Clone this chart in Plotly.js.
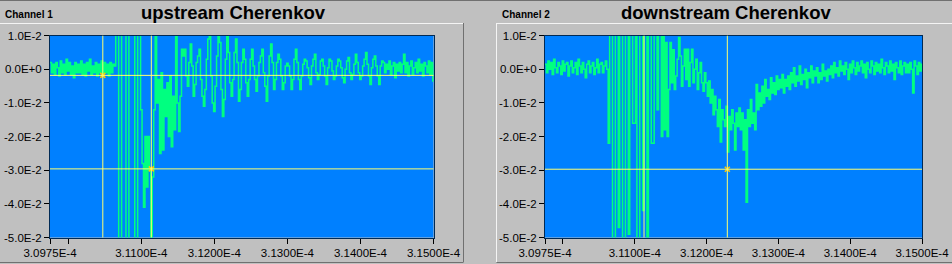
<!DOCTYPE html>
<html>
<head>
<meta charset="utf-8">
<script src="https://cdn.plot.ly/plotly-3.0.1.min.js"></script>
<style>
  html, body { margin: 0; padding: 0; background: #c0c0c0; }
  #chart { width: 952px; height: 264px; }
</style>
</head>
<body>
<div id="chart"></div>
<script>
// ---- data (time base: sample grid of the scope record) ----
const T0 = 3.0975e-4;          // first sample time (s)
const DT = 2e-8;               // sample interval (s)

// Channel 1 "upstream Cherenkov" samples, in mV
const ch1_mV = [
  2, -1, 1.5, -1.5, 2, 0.5, -2, 2.5, -1, 1.5,
  -1.5, 3, -0.5, 2, -1.5, 1, -2.5, 2, -1, 1.5,
  -1, 2.5, -1.5, 1.5, -2, 2, -0.5, 3, -1.5, 1,
  -1, 2, -2, 1.5, -1, 2.5, -1.5, 2, -1, 1.5,
  -2, 2, -1, 1.5, 1, 40, 40, -80, -80, 40,
  40, 40, -80, -80, 40, 40, 40, 40, -80, -80,
  40, 40, -12, -28, -41, -20, -35, -20, -30, -55,
  -32, -12, 12, -10, -3, -25, -1, -24, -6, -14,
  -4, -20, -2, -23, -8, -18, 12, -10, -18.5, -8,
  6, 4, 6, -2, -5, 2, 7.5, 1, -8, -4.5,
  2, 4, 6, -3, -8, -11, -6, 3, 9, 12,
  -2, -10, -12.5, -5, 4, 12, 8, -6, -14, -9,
  3, 12, 5, -4, -8, -3, 5, 9, 2, -9.5,
  -6, 2, 6, 3, -4, -8, -3, 3, 6, 1,
  -3, -6.5, -2, 2, 4, 6, -1, -5, -9.5, -2,
  4, 7.5, 2, -6, -3, 2, 4.5, 3, -2, -6,
  -4, 1, 1.8, 1, -2, -6, -3, 3, 6, 2,
  -3, -6, -2, 1.5, 3, 2.5, 0.5, -2.5, -4.5, 1,
  3, 4.5, -1, -3, -1.5, 2.5, 3, 1, -2, -4.5,
  0.5, 3, 2.5, -0.5, -3, -2, 1, 3, 2.5, 0.5,
  -2.5, -4, 0, 2.5, 3.5, -1, -3, -1.5, 1.5, 4.5,
  2, -1, -3, -2, 1, 3, 5, 1.5, -2, -4.5,
  0.5, 3, 4, 1, -2, -4.5, 1, 2.5, 2, -1,
  1.5, 0, 2.5, -1.5, 1, 2, -2.5, 1.5, -0.5, 2,
  -1, 1.5, 4.5, -1, 2, -2, 1, 2.5, -1.5, 0.5,
  2, -1, 3, -0.5, 1.5, -2, 2, 1, -1, 2.5,
  -1.5, 2, -3.5, 1.5
];

// Channel 2 "downstream Cherenkov" samples, in mV
const ch2_mV = [
  1.5, -1, 2.5, 0, 2, -1.5, 3, 0.5, -1, 2,
  1, -1.5, 2.5, -0.5, 1.5, 2, -2, 1, 2.5, -1,
  0.5, 2, -1.5, 3, 1, -1, 2, 0, -2.5, 1.5,
  2.5, -1, 1, 2, -1.5, 0.5, 3, -1, 1.5, 2,
  -1, 1, 2.5, 0, -22, 15, 15, -70, -70, 15,
  15, -47, 15, 15, -70, -70, 15, 15, -49, 15,
  15, -16, -16, 15, -70, -70, 15, 15, -42, 15,
  15, -70, 15, 15, -22, -22, 15, 15, -12, 15,
  15, -20, 12, -18, 8, -20, -6, 8, -4, 5.8,
  -6, -2, 3, 9.5, 4, -5, 1, 6, -3, 6,
  -5, 2, 6, -4, 0, 3, -6, -1, 2, -4,
  -6.5, -1, -4, -8, -3.5, -10, -6, -13.5, -8, -12,
  -17, -9, -21.6, -12, -15, -17, -11, -24.6, -14, -18,
  -12, -16, -24, -13, -17, -11.5, -18, -13, -24, -15,
  -39.5, -12, -17, -9, -16, -13, -18, -4.5, -12, -7,
  -11, -5, -10, -3, -8, -6, -9, -2.5, -7, -4,
  -7.5, -2, -6, -3, -5.5, -1.5, -7, -3, -5, -2,
  -6, -1, -4, 0.5, -5, -2, -3.5, 1, -4.5, -1.5,
  -3, 0, -5.5, -1, -2.5, 1, -4, -0.5, -2, 0.5,
  -4, -1, -3, 1.5, -2, -0.5, -3.5, 0, -1.5, 1,
  -2.5, 2, -1, 0.5, -2, 2.5, -0.5, 1, -1.5, 2,
  0, -3, 1.5, -1, 2.5, 0.5, -1.5, 2, -0.5, 1,
  2.5, -1, 1.5, -2.5, 2, 0, -1, 2.5, 1, -1.5,
  2, -0.5, 1.5, -1, 3, 0.5, -1.5, 2, 1, -1,
  2.5, -0.5, 1.5, -3, 2, 0.5, -1, 2.5, -1.5, 1,
  2, -1, 1.5, -1, 2, 0, -7, 2.5, 1, -1.5,
  2, -0.5, 1.5, 0
];

// Cursor readouts (time s, amplitude V)
const ch1CursorT = [3.10473e-4, 3.11137e-4];
const ch1CursorV = [-0.0018, -0.0296];
const ch2CursorT = [3.11129e-4, 3.12289e-4];
const ch2CursorV = [null, -0.0297];

// Axis ticks
const xTickVals = [3.0975e-4, 3.1000e-4, 3.1100e-4, 3.1200e-4, 3.1300e-4, 3.1400e-4, 3.1500e-4];
const xTickText = ['3.0975E-4', '', '3.1100E-4', '3.1200E-4', '3.1300E-4', '3.1400E-4', '3.1500E-4'];
const yTickVals = [0.01, 0, -0.01, -0.02, -0.03, -0.04, -0.05];
const yTickText = ['1.0E-2', '0.0E+0', '-1.0E-2', '-2.0E-2', '-3.0E-2', '-4.0E-2', '-5.0E-2'];

const titles = ['upstream Cherenkov', 'downstream Cherenkov'];
const channelNames = ['Channel 1', 'Channel 2'];

// ---- layout helpers ----
const W = 952, H = 264;
const px = x => x / W;
const py = y => 1 - y / H;

const toVolts = a => a.map(v => v * 1e-3);
const timeOf = a => a.map((_, i) => T0 + i * DT);

const GREEN = '#00ff80';
const CURSOR = '#ffff70';
const FONT = 'Arial, "Liberation Sans", Helvetica, sans-serif';

const traces = [
  { x: timeOf(ch1_mV), y: toVolts(ch1_mV), xaxis: 'x', yaxis: 'y', type: 'scatter', mode: 'lines',
    line: { color: GREEN, width: 1.5, shape: 'hv' }, hoverinfo: 'skip' },
  { x: timeOf(ch2_mV), y: toVolts(ch2_mV), xaxis: 'x2', yaxis: 'y2', type: 'scatter', mode: 'lines',
    line: { color: GREEN, width: 1.5, shape: 'hv' }, hoverinfo: 'skip' }
];

function markerTrace(T, V, xa, ya) {
  const xs = [], ys = [];
  T.forEach((t, i) => { if (V[i] !== null) { xs.push(t); ys.push(V[i]); } });
  return { x: xs, y: ys, xaxis: xa, yaxis: ya, type: 'scatter', mode: 'markers',
    marker: { symbol: 'x-thin-open', size: 5, color: '#ffc800', line: { color: '#ffc800', width: 1.5 } },
    hoverinfo: 'skip' };
}
traces.push(markerTrace(ch1CursorT, ch1CursorV, 'x', 'y'));
traces.push(markerTrace(ch2CursorT, ch2CursorV, 'x2', 'y2'));

const shapes = [];
function cursorShapes(T, V, xa, ya) {
  T.forEach(t => shapes.push({ type: 'line', xref: xa, yref: ya + ' domain', x0: t, x1: t, y0: 0, y1: 1,
    line: { color: CURSOR, width: 1 }, layer: 'above' }));
  V.forEach(v => { if (v !== null) shapes.push({ type: 'line', xref: xa + ' domain', yref: ya, x0: 0, x1: 1, y0: v, y1: v,
    line: { color: CURSOR, width: 1 }, layer: 'above' }); });
}
cursorShapes(ch1CursorT, ch1CursorV, 'x', 'y');
cursorShapes(ch2CursorT, ch2CursorV, 'x2', 'y2');

function pline(x0, y0, x1, y1, color) {
  shapes.push({ type: 'line', xref: 'paper', yref: 'paper', x0: px(x0), y0: py(y0), x1: px(x1), y1: py(y1),
    line: { color: color, width: 1 }, layer: 'below' });
}
// window frame lines
pline(0, 0.5, 952, 0.5, '#707070');
pline(0, 23.5, 463, 23.5, '#f4f4f4');
pline(463.5, 23, 463.5, 262, '#707070');
pline(0, 262.5, 463.5, 262.5, '#707070');
pline(496.5, 23.5, 952, 23.5, '#f4f4f4');
pline(496.5, 23, 496.5, 262, '#f4f4f4');
pline(496.5, 262.5, 952, 262.5, '#707070');

const yDom = [py(237.5), py(35.7)];
function xAxis(dom) {
  return { domain: dom, range: [3.0975e-4, 3.15e-4], tickmode: 'array', tickvals: xTickVals, ticktext: xTickText,
    ticks: 'outside', ticklen: 5, tickwidth: 1, tickcolor: '#000', showgrid: false, zeroline: false,
    showline: true, linecolor: '#002a55', linewidth: 1, mirror: true,
    tickfont: { family: FONT, size: 11.5, color: '#000' }, fixedrange: true };
}
function yAxis(anchor) {
  return { domain: yDom, range: [-0.05, 0.01], tickmode: 'array', tickvals: yTickVals, ticktext: yTickText,
    ticks: 'outside', ticklen: 5, tickwidth: 1, tickcolor: '#000', showgrid: false, zeroline: false,
    showline: true, linecolor: '#002a55', linewidth: 1, mirror: true, anchor: anchor,
    tickfont: { family: FONT, size: 11.5, color: '#000' }, fixedrange: true };
}

const annotations = [
  { text: '<b>' + titles[0] + '</b>', x: px(233.5), y: py(13), xref: 'paper', yref: 'paper', showarrow: false,
    xanchor: 'center', yanchor: 'middle', font: { family: FONT, size: 18.5, color: '#000' } },
  { text: '<b>' + titles[1] + '</b>', x: px(725.5), y: py(13), xref: 'paper', yref: 'paper', showarrow: false,
    xanchor: 'center', yanchor: 'middle', font: { family: FONT, size: 18.5, color: '#000' } },
  { text: '<b>' + channelNames[0] + '</b>', x: px(3), y: py(15), xref: 'paper', yref: 'paper', showarrow: false,
    xanchor: 'left', yanchor: 'middle', font: { family: FONT, size: 10, color: '#000' } },
  { text: '<b>' + channelNames[1] + '</b>', x: px(500), y: py(15), xref: 'paper', yref: 'paper', showarrow: false,
    xanchor: 'left', yanchor: 'middle', font: { family: FONT, size: 10, color: '#000' } }
];

const layout = {
  width: W, height: H, margin: { l: 0, r: 0, t: 0, b: 0, pad: 0 },
  paper_bgcolor: '#c0c0c0', plot_bgcolor: '#0080ff', showlegend: false, hovermode: false,
  xaxis: Object.assign(xAxis([px(50), px(433.5)]), { anchor: 'y' }),
  yaxis: yAxis('x'),
  xaxis2: Object.assign(xAxis([px(545), px(922)]), { anchor: 'y2' }),
  yaxis2: yAxis('x2'),
  shapes: shapes, annotations: annotations
};

Plotly.newPlot('chart', traces, layout, { displayModeBar: false, staticPlot: true });
</script>
</body>
</html>
